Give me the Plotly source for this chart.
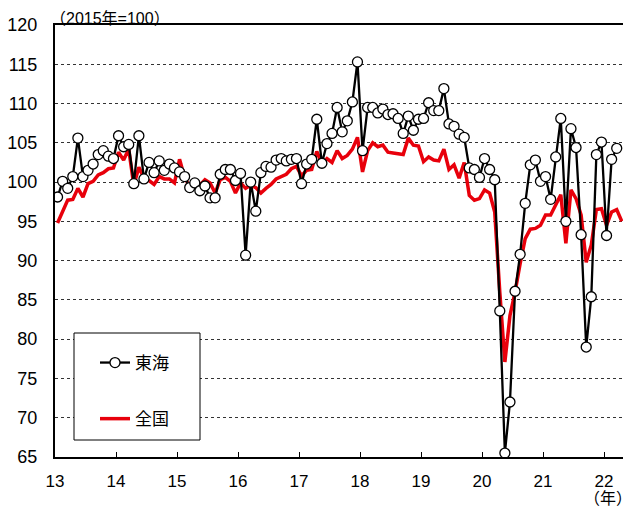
import plotly.graph_objects as go

# Monthly index (2015 = 100), Jan 2013 onward
tokai = [98.1, 100.1, 99.2, 100.7, 105.6, 100.7, 101.5, 102.3, 103.5, 104.0, 103.3, 103.0,
         105.9, 104.5, 104.8, 99.8, 105.9, 100.4, 102.5, 101.2, 102.7, 101.5, 102.3, 101.8,
         101.3, 100.7, 99.3, 99.9, 98.9, 99.5, 98.0, 98.0, 101.0, 101.6, 101.6, 100.2,
         101.1, 90.7, 100.0, 96.3, 101.2, 102.0, 101.9, 102.8, 103.0, 102.7, 102.9, 103.0,
         99.8, 102.3, 102.9, 108.0, 102.4, 104.9, 106.2, 109.5, 106.4, 107.8, 110.2, 115.3,
         104.0, 109.5, 109.5, 108.8, 109.3, 108.6, 108.7, 108.1, 106.2, 108.4, 106.6, 108.0,
         108.1, 110.1, 109.1, 109.1, 111.9, 107.4, 107.1, 106.1, 105.7, 101.8, 101.6, 100.6,
         103.0, 101.6, 100.3, 83.6, 65.5, 72.0, 86.1, 90.8, 97.3, 102.2, 102.8, 100.1,
         100.7, 97.8, 103.2, 108.1, 95.0, 106.8, 104.4, 93.3, 79.0, 85.4, 103.5, 105.1,
         93.2, 102.9, 104.3]

zenkoku = [94.8, 96.4, 97.7, 97.8, 99.2, 98.1, 99.8, 100.1, 100.9, 101.2, 101.7, 101.8,
           103.8, 102.8, 104.2, 99.6, 101.9, 100.5, 100.2, 99.7, 100.7, 100.4, 100.4, 99.9,
           102.9, 100.6, 99.4, 99.4, 99.6, 100.3, 99.9, 98.6, 100.3, 100.6, 100.1, 98.6,
           99.9, 99.2, 99.6, 99.3, 98.6, 99.2, 99.7, 100.4, 100.7, 101.0, 101.7, 102.0,
           100.8, 101.5, 101.6, 103.9, 102.3, 103.0, 102.5, 104.0, 103.0, 103.4, 104.2, 105.7,
           101.3, 104.0, 105.0, 104.5, 104.7, 103.8, 103.7, 103.6, 103.5, 105.6, 104.7, 104.6,
           102.6, 103.2, 102.8, 102.7, 104.2, 101.6, 102.2, 100.5, 102.5, 98.3, 97.7, 97.9,
           99.0, 98.6, 96.2, 86.0, 77.1, 83.0, 86.0, 89.6, 92.8, 94.0, 94.1, 94.5,
           95.8, 95.8, 97.2, 98.4, 92.2, 99.0, 97.9, 95.8, 89.8, 92.0, 96.5, 96.6,
           94.5, 96.2, 96.5, 95.0]

start_year = 2013
year_ticks = list(range(2013, 2023))
year_labels = ["13", "14", "15", "16", "17", "18", "19", "20", "21", "22"]
y_ticks = list(range(65, 121, 5))


def month_x(n):
    return [start_year + (i + 0.5) / 12 for i in range(n)]


FONT = "Arial, 'Liberation Sans', 'Noto Sans CJK JP', sans-serif"

fig = go.Figure()
fig.add_trace(go.Scatter(
    x=month_x(len(zenkoku)), y=zenkoku, name="全国", mode="lines",
    line=dict(color="#e8000b", width=3.5),
    legendgroup="b", legendrank=2,
))
fig.add_trace(go.Scatter(
    x=month_x(len(tokai)), y=tokai, name="東海", mode="lines+markers",
    line=dict(color="black", width=2.3),
    marker=dict(symbol="circle", size=10, color="white", line=dict(color="black", width=1.3)),
    legendgroup="a", legendrank=1,
))

# legend box
fig.add_shape(type="rect", xref="paper", yref="paper",
              x0=(74 - 55) / 568, x1=(200 - 55) / 568,
              y0=(457 - 440) / 432, y1=(457 - 333) / 432,
              line=dict(color="black", width=1), fillcolor="white", layer="above")

fig.update_layout(
    width=623, height=503,
    margin=dict(l=47, r=8, t=17, b=54),
    paper_bgcolor="white", plot_bgcolor="white",
    font=dict(family=FONT, size=17, color="black"),
    showlegend=True,
    legend=dict(
        x=(95 - 55) / 568, y=(457 - 345) / 432, xanchor="left", yanchor="top",
        bgcolor="rgba(0,0,0,0)", borderwidth=0,
        font=dict(size=17, family=FONT), tracegroupgap=31, itemwidth=30,
        traceorder="grouped",
    ),
    xaxis=dict(
        range=[2013, 2013 + 568 / 61], tickvals=year_ticks, ticktext=year_labels,
        showgrid=False, zeroline=False, automargin=False,
        showline=True, linecolor="black", linewidth=2, mirror=True,
        ticks="inside", ticklen=5, tickcolor="black", tickwidth=1,
        tickfont=dict(size=17), ticklabelstandoff=8,
    ),
    yaxis=dict(
        range=[65, 120], tickvals=y_ticks, automargin=False,
        showgrid=True, gridcolor="#333333", griddash="dot", gridwidth=1,
        zeroline=False,
        showline=True, linecolor="black", linewidth=2, mirror=True,
        ticks="", tickfont=dict(size=18), ticklabelstandoff=12,
    ),
    annotations=[
        dict(text="（2015年=100）", xref="paper", yref="paper", x=-0.012, y=1.0,
             xanchor="left", yanchor="bottom", showarrow=False, yshift=-4,
             font=dict(size=16)),
        dict(text="（年）", xref="paper", yref="paper", x=1.02, y=0,
             xanchor="right", yanchor="top", showarrow=False, yshift=-31,
             font=dict(size=16)),
    ],
)

fig.write_html("out.html")
